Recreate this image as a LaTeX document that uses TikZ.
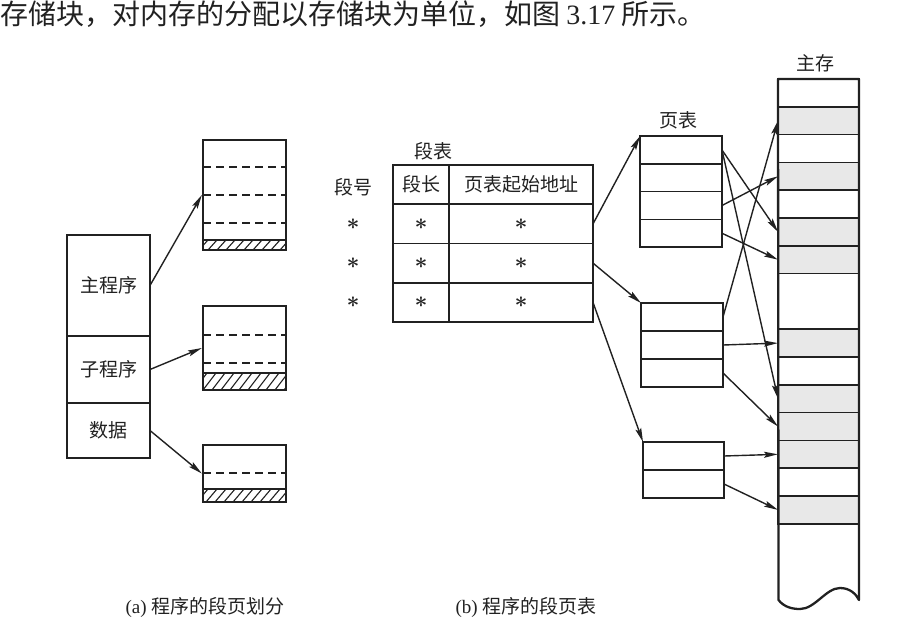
\documentclass[tikz,border=0pt]{standalone}
\usepackage{fontspec}
\setmainfont{Liberation Serif}
\newfontfamily\cjk{Noto Sans CJK SC}
\usetikzlibrary{arrows.meta,calc}
\newcommand\zhsz{\cjk\fontsize{19pt}{23pt}\selectfont}
\newcommand\rmsz{\fontsize{19pt}{23pt}\selectfont}
\newcommand\starsym{\scalebox{1.3}{$\boldsymbol{\ast}$}}
\usepackage{amsmath,amsbsy}
\definecolor{memgray}{gray}{0.91}
\definecolor{ink}{gray}{0.13}
\begin{document}
\begin{tikzpicture}[x=1pt,y=-1pt,
  cellbox/.style={draw=ink, line width=1.7pt, inner sep=0pt, outer sep=0pt},
  outline/.style={draw=ink, line width=2.3pt},
  arr/.style={draw=ink, line width=1.4pt, -{Stealth[length=14pt,width=6pt,inset=2.5pt]}},
  dashln/.style={draw=ink, line width=1.4pt, dash pattern=on 8pt off 5pt},
  hatchln/.style={draw=ink, line width=1.1pt},
  lbl/.style={inner sep=0pt, text=ink, font=\zhsz},
  staratt/.style={inner sep=0pt, text=ink, font=\rmsz},
  segcell/.style={cellbox, minimum height=39.25pt, text=ink},
  ptcell/.style={cellbox, minimum height=27.9pt},
  memcell/.style={cellbox, minimum width=81pt, minimum height=27.8pt}]
\useasboundingbox (0,0) rectangle (917,627);

% top running text
\node[anchor=west, inner sep=0pt, text=ink, font=\cjk\fontsize{28pt}{31pt}\selectfont] (toptext) at (0,14)
  {存储块，对内存的分配以存储块为单位，如图~{\rmfamily 3.17}~所示。};

% ---------------- (a) ----------------
\node[cellbox, minimum width=83pt, minimum height=101pt, text=ink, font=\zhsz] (mainprog) at (108.5,285.5) {主程序};
\node[cellbox, minimum width=83pt, minimum height=67pt, text=ink, font=\zhsz] (subprog) at (108.5,369.5) {子程序};
\node[cellbox, minimum width=83pt, minimum height=55pt, text=ink, font=\zhsz] (data) at (108.5,430.5) {数据};
\draw[outline] (mainprog.north west) rectangle (data.south east);

% page 1
\foreach \y in {167,195,223} \draw[dashln] (203,\y) -- (286,\y);
\begin{scope}
  \clip (203,240) rectangle (286,250);
  \foreach \x in {190,199,...,290} \draw[hatchln] (\x,250) -- (\x+9,240);
\end{scope}
\draw[line width=1.2pt, draw=ink] (203,240) -- (286,240);
\node[outline, inner sep=0pt, minimum width=83pt, minimum height=110pt] (pg1) at (244.5,195) {};

% page 2
\foreach \y in {335,363} \draw[dashln] (203,\y) -- (286,\y);
\begin{scope}
  \clip (203,373) rectangle (286,390);
  \foreach \x in {185,194,...,290} \draw[hatchln] (\x,390) -- (\x+13,373);
\end{scope}
\draw[line width=1.2pt, draw=ink] (203,373) -- (286,373);
\node[outline, inner sep=0pt, minimum width=83pt, minimum height=84pt] (pg2) at (244.5,348) {};

% page 3
\draw[dashln] (203,473) -- (286,473);
\begin{scope}
  \clip (203,489) rectangle (286,502);
  \foreach \x in {188,197,...,290} \draw[hatchln] (\x,502) -- (\x+11,489);
\end{scope}
\draw[line width=1.2pt, draw=ink] (203,489) -- (286,489);
\node[outline, inner sep=0pt, minimum width=83pt, minimum height=57pt] (pg3) at (244.5,473.5) {};

\draw[arr] (mainprog.east) -- (pg1.west);
\draw[arr] (subprog.east) -- (pg2.west);
\draw[arr] (data.east) -- (pg3.west);

\node[inner sep=0pt, text=ink, font=\rmsz] (capa) at (205,607) {(a) {\cjk 程序的段页划分}};

% ---------------- (b) ----------------
\node[lbl] (segtab) at (433,151) {段表};
\node[lbl] (segno) at (353,187) {段号};
\node[segcell, minimum width=56pt, font=\zhsz] (hl) at (421,184.6) {段长};
\node[segcell, minimum width=144pt, font=\zhsz] (ha) at (521,184.6) {页表起始地址};
\foreach \i/\y in {1/223.9,2/263.1,3/302.4} {
  \node[staratt] (n\i) at (353,\y) {\starsym};
  \node[segcell, minimum width=56pt, font=\rmsz] (l\i) at (421,\y) {\starsym};
  \node[segcell, minimum width=144pt, font=\rmsz] (a\i) at (521,\y) {\starsym};
}
\draw[outline] (hl.north west) rectangle (a3.south east);

% page tables
\node[lbl] (ptlabel) at (678,120) {页表};
\foreach \j/\y in {0/150,1/177.75,2/205.5,3/233.25}
  \node[ptcell, minimum width=82pt, minimum height=27.75pt] (p1r\j) at (681,\y) {};
\draw[outline] (p1r0.north west) rectangle (p1r3.south east);
\foreach \j/\y in {0/317,1/345,2/373}
  \node[ptcell, minimum width=82pt, minimum height=28pt] (p2r\j) at (682,\y) {};
\draw[outline] (p2r0.north west) rectangle (p2r2.south east);
\foreach \j/\y in {0/456,1/484}
  \node[ptcell, minimum width=81pt, minimum height=28pt] (p3r\j) at (683.5,\y) {};
\draw[outline] (p3r0.north west) rectangle (p3r1.south east);

% main memory
\node[lbl] (memlabel) at (815,63) {主存};
\foreach \i/\y/\f in {0/92.9/white,1/120.7/memgray,2/148.5/white,3/176.3/memgray,
    4/204.1/white,5/231.9/memgray,6/259.7/memgray,8/343.1/memgray,9/370.9/white,
    10/398.7/memgray,11/426.5/memgray,12/454.3/memgray,13/482.1/white,14/509.9/memgray}
  \node[memcell, fill=\f] (m\i) at (818.5,\y) {};
\node[memcell, minimum height=55.6pt, fill=white] (m7) at (818.5,301.4) {};
\draw[outline, line join=round] (m0.north east) -- (m0.north west) -- (778.5,600)
  .. controls (784,607) and (792,609) .. (800,609)
  .. controls (815,609) and (826,588) .. (840,588)
  .. controls (850,588) and (856,594) .. (859,600) -- cycle;

% segment table -> page tables
\draw[arr] (a1.east) -- (p1r0.north west);
\draw[arr] (a2.east) -- (p2r0.north west);
\draw[arr] (a3.east) -- (p3r0.north west);

% page tables -> main memory
\draw[arr] (p1r0.east) -- (m5.west);
\draw[arr] (p1r0.east) -- (m10.west);
\draw[arr] (p1r2.east) -- (m3.west);
\draw[arr] (p1r3.east) -- (m6.west);
\draw[arr] (p2r0.east) -- (m1.west);
\draw[arr] (p2r1.east) -- (m8.west);
\draw[arr] (p2r2.east) -- (m11.west);
\draw[arr] (p3r0.east) -- (m12.west);
\draw[arr] (p3r1.east) -- (m14.west);

\node[inner sep=0pt, text=ink, font=\rmsz] (capb) at (526,607) {(b) {\cjk 程序的段页表}};
\end{tikzpicture}
\end{document}
